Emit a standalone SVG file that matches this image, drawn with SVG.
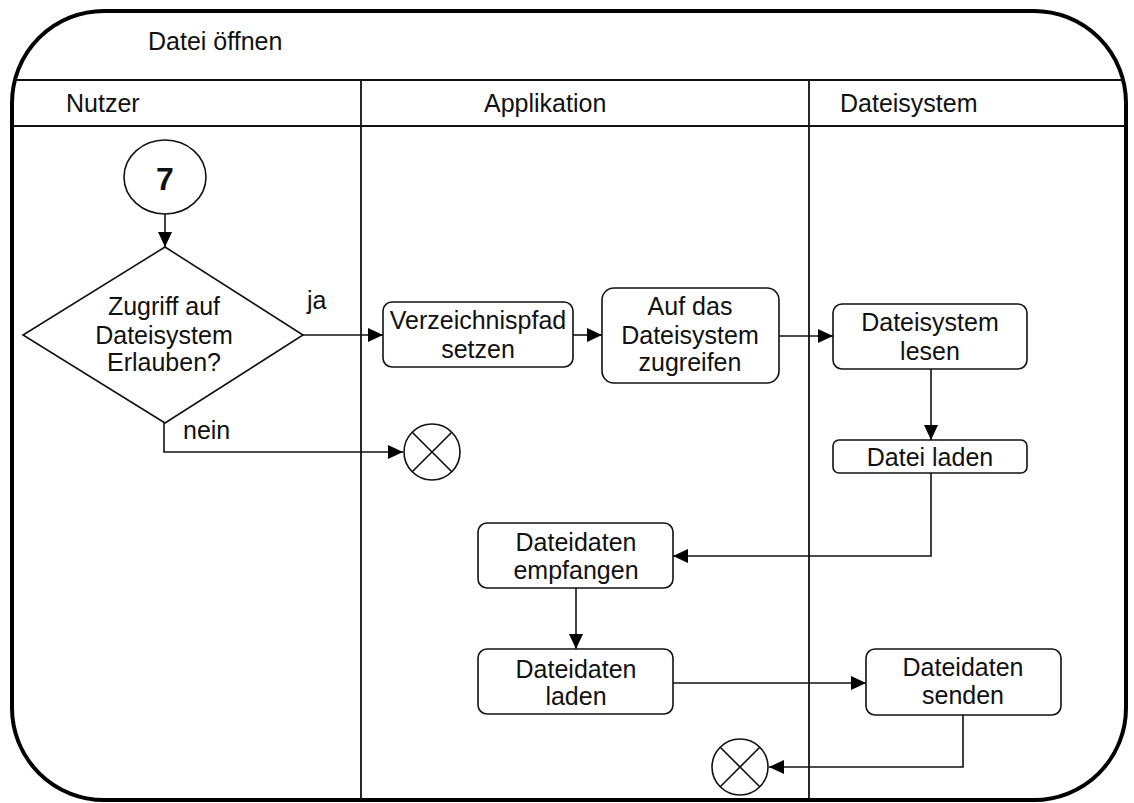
<svg xmlns="http://www.w3.org/2000/svg" width="1134" height="803" viewBox="0 0 1134 803">
<style>
text{font-family:"Liberation Sans",Arial,sans-serif;font-size:25px;fill:#111}
.c{text-anchor:middle}
.box{fill:#fff;stroke:#111;stroke-width:1.6}
.ln{fill:none;stroke:#111;stroke-width:1.6}
.frame{fill:#fff;stroke:#000;stroke-width:4}
.sep{stroke:#111;stroke-width:1.8}
</style>
<defs>
<marker id="ah" markerWidth="16" markerHeight="14" refX="15" refY="7" orient="auto" markerUnits="userSpaceOnUse">
<path d="M0,0 L15,7 L0,14 Z" fill="#000"/>
</marker>
</defs>
<g id="frame">
<rect class="frame" x="12" y="11" width="1114" height="789" rx="92" ry="92"/>
<line class="sep" x1="13" y1="80" x2="1125" y2="80"/>
<line class="sep" x1="13" y1="126" x2="1125" y2="126"/>
<line class="sep" x1="361" y1="80" x2="361" y2="800"/>
<line class="sep" x1="809" y1="80" x2="809" y2="798"/>
<text x="148" y="50">Datei öffnen</text>
<text x="66" y="112">Nutzer</text>
<text x="484" y="112">Applikation</text>
<text x="840" y="112">Dateisystem</text>
</g>
<g id="connectors">
<line class="ln" x1="165" y1="214" x2="165" y2="247" marker-end="url(#ah)"/>
<line class="ln" x1="303" y1="335" x2="383" y2="335" marker-end="url(#ah)"/>
<polyline class="ln" points="164,423 164,452 403,452" marker-end="url(#ah)"/>
<line class="ln" x1="573" y1="335" x2="602" y2="335" marker-end="url(#ah)"/>
<line class="ln" x1="779" y1="336" x2="833" y2="336" marker-end="url(#ah)"/>
<line class="ln" x1="931" y1="369" x2="931" y2="440" marker-end="url(#ah)"/>
<polyline class="ln" points="931,473 931,556 673,556" marker-end="url(#ah)"/>
<line class="ln" x1="576" y1="588" x2="576" y2="649" marker-end="url(#ah)"/>
<line class="ln" x1="673" y1="683" x2="866" y2="683" marker-end="url(#ah)"/>
<polyline class="ln" points="963,715 963,767 769,767" marker-end="url(#ah)"/>
<text x="307" y="309">ja</text>
<text x="183" y="439">nein</text>
</g>
<g id="start7">
<ellipse class="box" cx="165" cy="177" rx="41" ry="37"/>
<text class="c" x="165" y="190" style="font-size:32px;font-weight:bold">7</text>
</g>
<g id="decision">
<polygon class="box" points="165,247 303,335 165,423 23,335"/>
<text class="c" x="164" y="315">Zugriff auf</text>
<text class="c" x="164" y="344">Dateisystem</text>
<text class="c" x="164" y="371">Erlauben?</text>
</g>
<g id="end1">
<circle class="box" cx="432" cy="452" r="28"/>
<path class="ln" d="M412.2,432.2 L451.8,471.8 M451.8,432.2 L412.2,471.8"/>
</g>
<g id="verzeichnispfad">
<rect class="box" x="383" y="302" width="190" height="65" rx="9"/>
<text class="c" x="478" y="329">Verzeichnispfad</text>
<text class="c" x="478" y="358">setzen</text>
</g>
<g id="zugreifen">
<rect class="box" x="602" y="288" width="177" height="95" rx="12"/>
<text class="c" x="690" y="315">Auf das</text>
<text class="c" x="690" y="344">Dateisystem</text>
<text class="c" x="690" y="371">zugreifen</text>
</g>
<g id="lesen">
<rect class="box" x="833" y="304" width="194" height="65" rx="9"/>
<text class="c" x="930" y="331">Dateisystem</text>
<text class="c" x="930" y="360">lesen</text>
</g>
<g id="dateiladen">
<rect class="box" x="833" y="440" width="194" height="33" rx="6"/>
<text class="c" x="930" y="466">Datei laden</text>
</g>
<g id="empfangen">
<rect class="box" x="478" y="523" width="195" height="65" rx="9"/>
<text class="c" x="576" y="551">Dateidaten</text>
<text class="c" x="576" y="579">empfangen</text>
</g>
<g id="datenladen">
<rect class="box" x="478" y="649" width="195" height="65" rx="9"/>
<text class="c" x="576" y="678">Dateidaten</text>
<text class="c" x="576" y="705">laden</text>
</g>
<g id="senden">
<rect class="box" x="866" y="649" width="195" height="66" rx="9"/>
<text class="c" x="963" y="676">Dateidaten</text>
<text class="c" x="963" y="704">senden</text>
</g>
<g id="end2">
<circle class="box" cx="740" cy="767" r="28"/>
<path class="ln" d="M720.2,747.2 L759.8,786.8 M759.8,747.2 L720.2,786.8"/>
</g>
</svg>
